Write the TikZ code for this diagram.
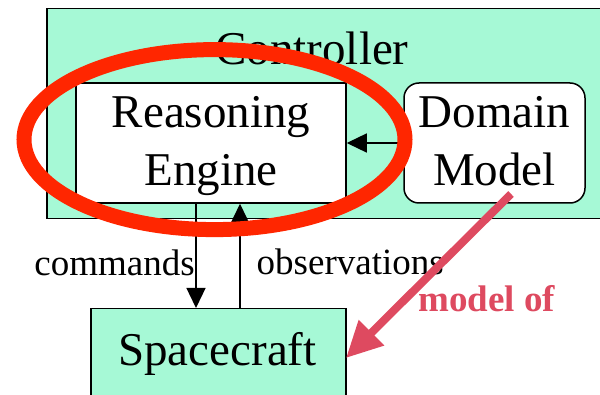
\documentclass[tikz,border=0pt]{standalone}
\usepackage{fontspec}
\setmainfont{Liberation Serif}
\usetikzlibrary{arrows.meta}
\definecolor{mint}{RGB}{166,249,214}
\definecolor{ovalred}{RGB}{255,38,0}
\definecolor{modelpink}{RGB}{222,74,96}
\tikzset{
  boxline/.style={draw=black, line width=1.5pt, inner sep=0pt},
  bigtext/.style={font=\rmfamily\fontsize{47}{56}\selectfont, inner sep=0pt, anchor=base},
  smalltext/.style={font=\rmfamily\fontsize{37}{44}\selectfont, inner sep=0pt},
  flow/.style={draw=black, line width=1.3pt, -{Triangle[length=20pt,width=19pt]}},
  modelarrow/.style={draw=modelpink, line width=8pt, -{Triangle[length=36pt,width=34pt]}},
}
\begin{document}
\begin{tikzpicture}[x=1pt,y=-1pt]
\clip (0,0) rectangle (600,395);
\fill[white] (0,0) rectangle (600,395);
% Controller
\node[boxline, fill=mint, minimum width=574pt, minimum height=210pt, anchor=north west] (ctrl) at (46,8) {};
\node[bigtext] (ctrltxt) at (312,65) {Controller};
% Reasoning Engine
\node[boxline, fill=white, minimum width=270pt, minimum height=120pt] (re) at (211,143) {};
\node[bigtext] (retxt1) at (211,128) {Reasoning};
\node[bigtext] (retxt2) at (211,186) {Engine};
% Domain Model
\node[boxline, fill=white, rounded corners=15pt, minimum width=181pt, minimum height=120pt] (dm) at (494.5,143) {};
\node[bigtext] (dmtxt1) at (494.5,128) {Domain};
\node[bigtext] (dmtxt2) at (494.5,186) {Model};
% Spacecraft
\node[boxline, fill=mint, minimum width=255pt, minimum height=120pt, anchor=north west] (sc) at (90,308) {};
\node[bigtext] (sctxt) at (217.5,366) {Spacecraft};
% connectors
\draw[flow] (dm.west) -- (re.east);
\coordinate (cmdx) at (196,0);
\coordinate (obsx) at (240,0);
\draw[flow] (re.south -| cmdx) -- (sc.north -| cmdx);
\draw[flow] (sc.north -| obsx) -- (re.south -| obsx);
\node[smalltext, anchor=base east] (cmdtxt) at (195,276) {commands};
\node[smalltext, anchor=base west] (obstxt) at (256.5,275) {observations};
% model of arrow
\coordinate (mstart) at (511,194);
\coordinate (mend) at (346,358);
\draw[modelarrow] (mstart) -- (mend);
\node[smalltext, anchor=base west, text=modelpink, font=\rmfamily\fontsize{37}{44}\selectfont\bfseries] (modeltxt) at (418,312) {model of};
% red oval
\draw[ovalred, line width=15pt] (214.5,139.6) ellipse [x radius=190.5pt, y radius=90pt];
\end{tikzpicture}
\end{document}
